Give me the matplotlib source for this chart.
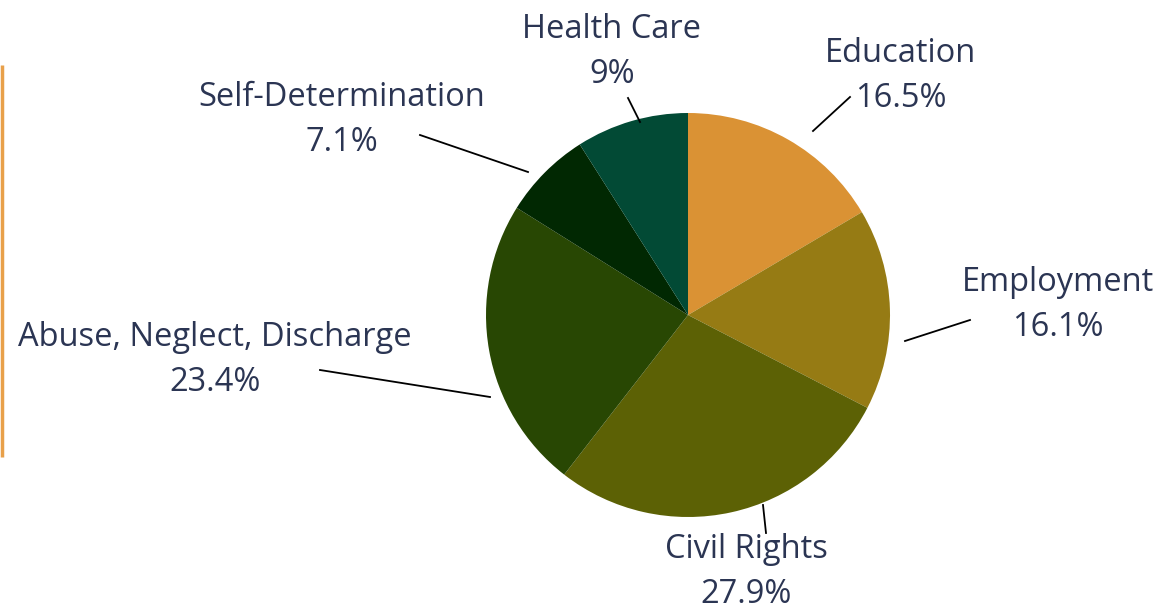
import matplotlib
matplotlib.use("Agg")
import matplotlib.pyplot as plt

categories = ["Education", "Employment", "Civil Rights", "Abuse, Neglect, Discharge",
              "Self-Determination", "Health Care"]
values = [16.5, 16.1, 27.9, 23.4, 7.1, 9]
value_labels = ["16.5%", "16.1%", "27.9%", "23.4%", "7.1%", "9%"]
colors = ["#DA9234", "#967B14", "#5C6105", "#284703", "#012802", "#024A35"]

W, H = 1168, 611
fig = plt.figure(figsize=(W / 100, H / 100), dpi=100)
ax = fig.add_axes([0, 0, 1, 1])

cx, cy, r = 688, H - 315, 202
ax.pie(values, colors=colors, startangle=90, counterclock=False,
       center=(cx, cy), radius=r, wedgeprops=dict(linewidth=0),
       frame=True)
ax.set_xlim(0, W)
ax.set_ylim(0, H)
ax.set_aspect("equal")
ax.axis("off")

# label layout (pixel coords from top-left): text center, leader start, leader end
label_pos = [(901, 76), (1058, 305), (746, 572), (215, 360), (342, 120), (612, 52)]
leaders = [((850, 97), (813, 131)), ((970, 320), (905, 341)), ((763, 505), (766, 533)),
           ((320, 370), (490, 397)), ((420, 135), (528, 172)), ((628, 98), (640, 122))]

txt_color = "#2B3553"
for cat, lab, (tx, ty), ((x1, y1), (x2, y2)) in zip(categories, value_labels, label_pos, leaders):
    ax.text(tx, H - ty, f"{cat}\n{lab}", ha="center", va="center",
            fontsize=23.5, color=txt_color, family="Open Sans", linespacing=1.45)
    ax.plot([x1, x2], [H - y1, H - y2], color="black", lw=1.3)

# decorative left border
ax.plot([2, 2], [H - 65, H - 457], color="#E8A04A", lw=2.5, solid_capstyle="butt")

fig.savefig("out.png", dpi=100)
